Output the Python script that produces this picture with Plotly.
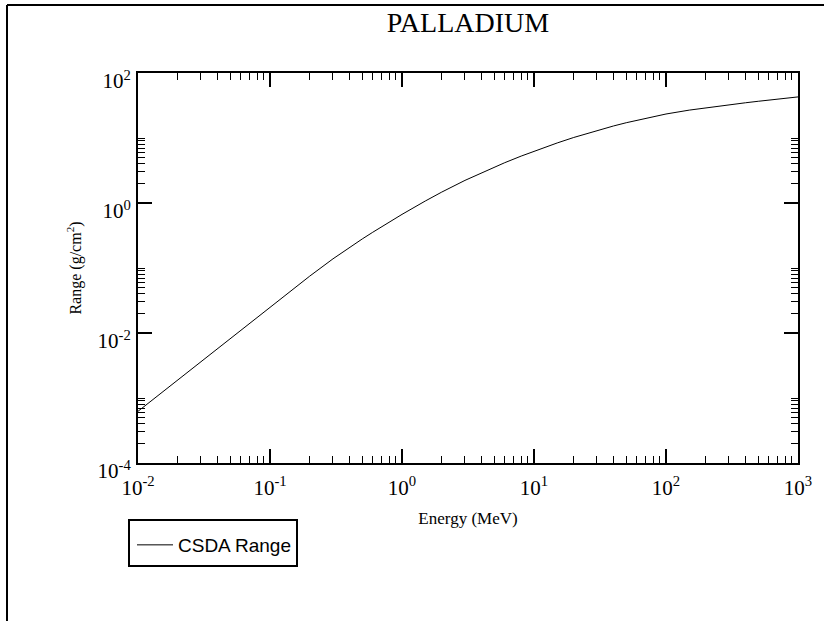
import plotly.graph_objects as go

# Data: CSDA range of electrons in palladium
energy_mev = [0.01, 0.015, 0.02, 0.03, 0.04, 0.05, 0.06, 0.08, 0.1, 0.15, 0.2, 0.3, 0.4, 0.5,
              0.6, 0.8, 1.0, 1.5, 2.0, 3.0, 4.0, 5.0, 6.0, 8.0, 10.0, 15.0, 20.0, 30.0, 40.0,
              50.0, 60.0, 80.0, 100.0, 150.0, 200.0, 300.0, 400.0, 500.0, 600.0, 800.0, 1000.0]
csda_range = [6.24e-4, 1.194e-3, 1.892e-3, 3.614e-3, 5.728e-3, 8.185e-3, 1.094e-2, 1.734e-2,
              2.477e-2, 4.742e-2, 7.499e-2, 0.1384, 0.2075, 0.2799, 0.3544, 0.5093, 0.6683,
              1.072, 1.472, 2.228, 2.924, 3.573, 4.169, 5.272, 6.266, 8.395, 10.19, 13.03,
              15.31, 17.18, 18.75, 21.33, 23.39, 26.85, 29.17, 32.43, 34.83, 36.73, 38.28,
              40.83, 42.85]

x_major = [1e-2, 1e-1, 1e0, 1e1, 1e2, 1e3]
x_major_text = ["10<sup>-2</sup>", "10<sup>-1</sup>", "10<sup>0</sup>", "10<sup>1</sup>",
                "10<sup>2</sup>", "10<sup>3</sup>"]
y_major = [1e-4, 1e-2, 1e0, 1e2]
y_major_text = ["10<sup>-4</sup>", "10<sup>-2</sup>", "10<sup>0</sup>", "10<sup>2</sup>"]

x_minor = [m * d for d in [1e-2, 1e-1, 1e0, 1e1, 1e2] for m in range(2, 10)]
y_minor = [m * d for d in [1e-4, 1e-2, 1e0] for m in range(2, 11)]

W, H = 824, 621
L, R, T, B = 138, 798, 73, 463

fig = go.Figure()
fig.add_trace(go.Scatter(x=energy_mev, y=csda_range, mode="lines", name="CSDA Range",
                         line=dict(color="black", width=1)))

serif = "Liberation Serif"
axis_common = dict(type="log", showgrid=False, zeroline=False, showline=True,
                   linecolor="black", linewidth=2, mirror="ticks", ticks="inside",
                   ticklen=14, tickwidth=1.5, tickcolor="black",
                   tickfont=dict(family=serif, size=21, color="black"))

fig.update_xaxes(range=[-2, 3], tickmode="array", tickvals=x_major, ticktext=x_major_text,
                 minor=dict(tickmode="array", tickvals=x_minor, ticks="inside", ticklen=7,
                            tickwidth=1, tickcolor="black"),
                 ticklabelstandoff=5,
                 title=dict(text="Energy (MeV)", font=dict(family=serif, size=17, color="black"),
                            standoff=13),
                 **axis_common)
fig.update_yaxes(range=[-4, 2], tickmode="array", tickvals=y_major, ticktext=y_major_text,
                 minor=dict(tickmode="array", tickvals=y_minor, ticks="inside", ticklen=7,
                            tickwidth=1, tickcolor="black"),
                 ticklabelshift=8, ticklabelstandoff=1,
                 title=dict(text="Range (g/cm<sup>2</sup>)",
                            font=dict(family=serif, size=16, color="black"), standoff=12),
                 **axis_common)

def px_to_paper_x(px):
    return (px - L) / (R - L)

def px_to_paper_y(py):
    return (B - py) / (B - T)

shapes = [
    # outer frame (left and top edges)
    dict(type="line", xref="paper", yref="paper", x0=px_to_paper_x(7), x1=px_to_paper_x(7),
         y0=px_to_paper_y(H + 10), y1=px_to_paper_y(5), line=dict(color="black", width=2)),
    dict(type="line", xref="paper", yref="paper", x0=px_to_paper_x(7), x1=px_to_paper_x(W + 10),
         y0=px_to_paper_y(5), y1=px_to_paper_y(5), line=dict(color="black", width=2)),
    # legend box
    dict(type="rect", xref="paper", yref="paper", x0=px_to_paper_x(129), x1=px_to_paper_x(297),
         y0=px_to_paper_y(566), y1=px_to_paper_y(520), line=dict(color="black", width=2),
         fillcolor="rgba(0,0,0,0)"),
]

fig.update_layout(
    width=W, height=H,
    margin=dict(l=L, r=W - R, t=T, b=H - B, pad=0),
    paper_bgcolor="white", plot_bgcolor="white",
    title=dict(text="PALLADIUM", x=468 / W, xanchor="center", xref="container",
               y=1 - 22 / H, yanchor="middle", yref="container",
               font=dict(family=serif, size=28, color="black")),
    showlegend=True,
    legend=dict(x=px_to_paper_x(132), y=px_to_paper_y(526), xanchor="left", yanchor="top",
                xref="paper", yref="paper", itemwidth=36,
                borderwidth=0, bgcolor="rgba(0,0,0,0)",
                font=dict(family="Liberation Sans", size=19, color="black")),
    shapes=shapes,
)

fig.write_html("out.html", config={"displayModeBar": False},
               post_script="document.body.style.margin='0px';")
